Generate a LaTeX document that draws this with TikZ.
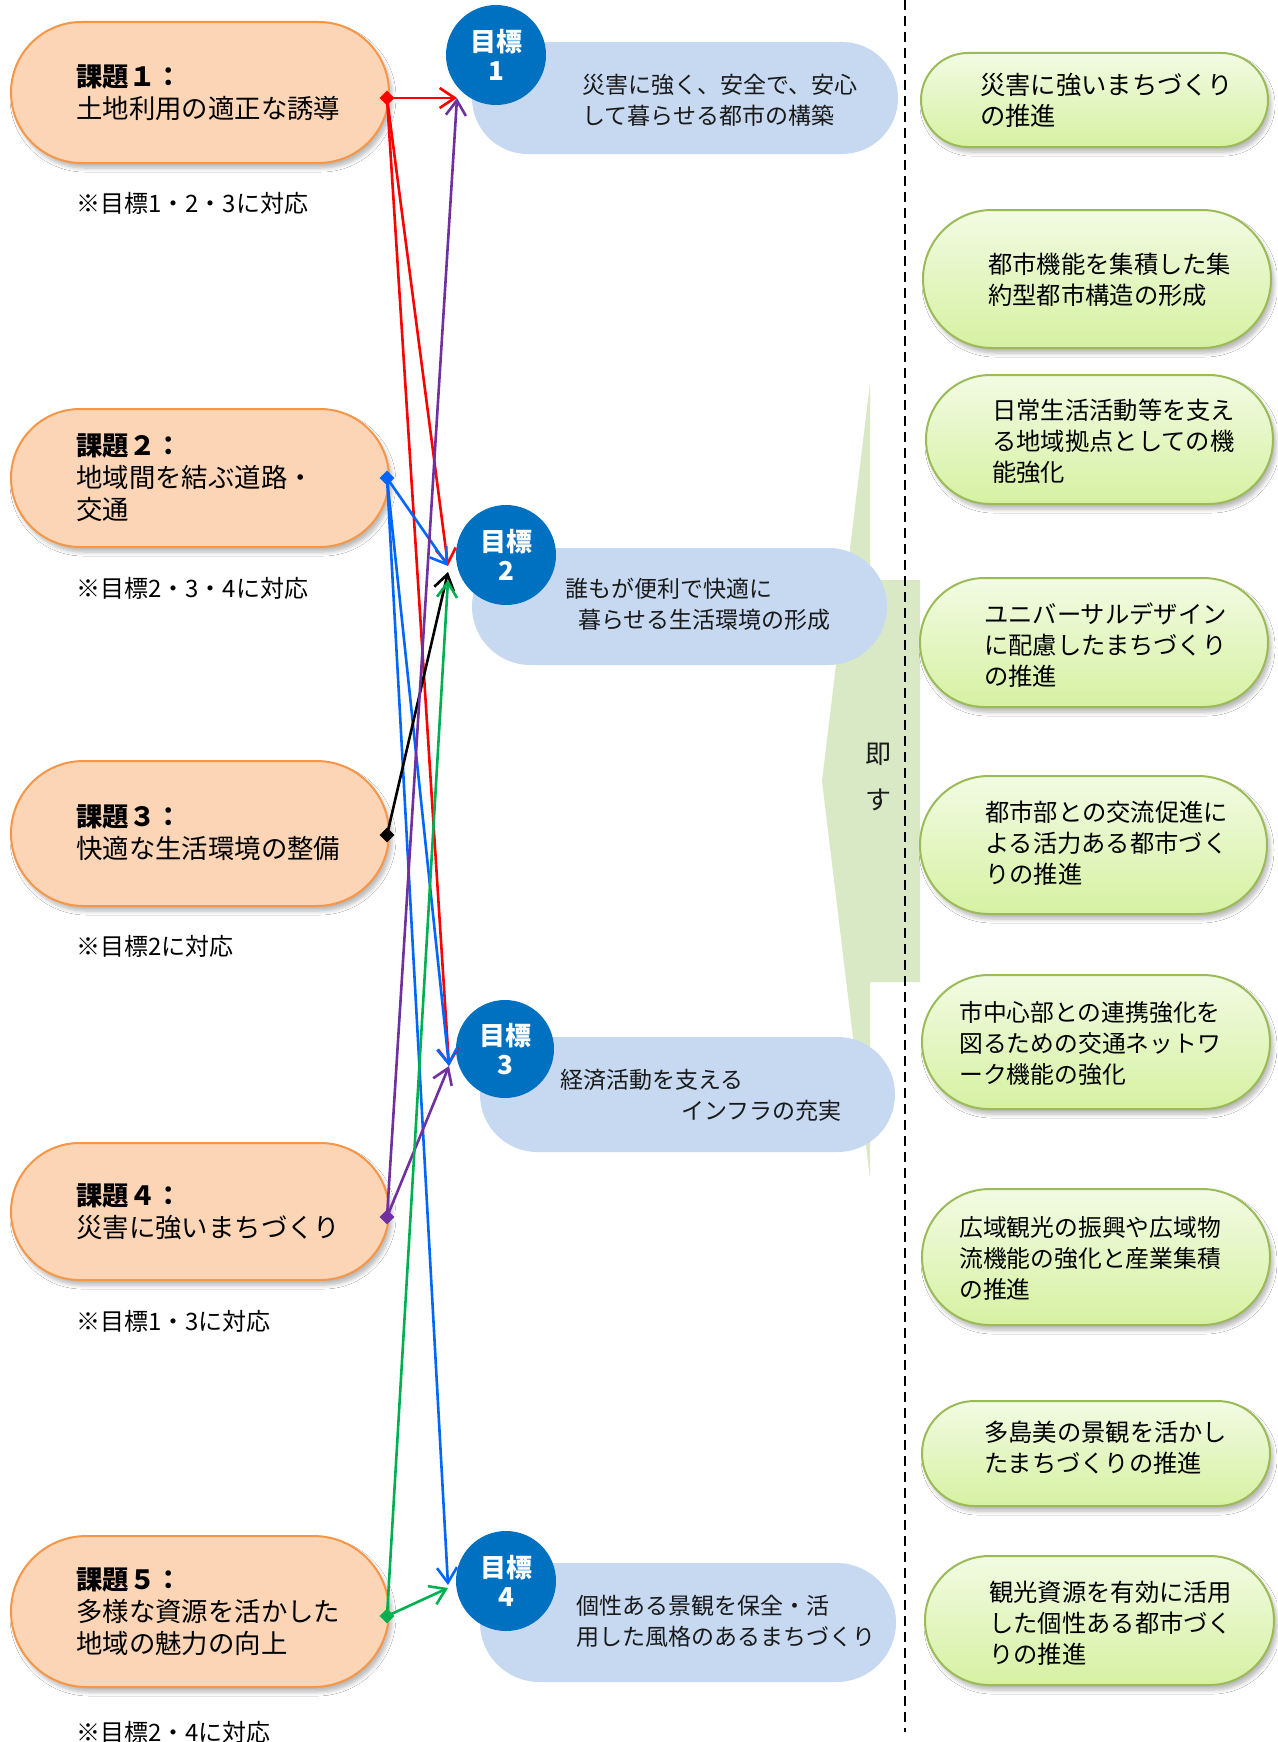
\documentclass[tikz,border=0pt]{standalone}
\usepackage{fontspec}
\setmainfont{Noto Sans CJK JP}
\usetikzlibrary{arrows.meta,shapes.misc,shapes.geometric,shadows.blur}
\definecolor{orfill}{HTML}{FBD5B5}
\definecolor{orborder}{HTML}{F79646}
\definecolor{bfill}{HTML}{C6D9F1}
\definecolor{goalblue}{HTML}{0070C0}
\definecolor{gtop}{HTML}{F2FBE3}
\definecolor{gbot}{HTML}{D6F1A2}
\definecolor{gborder}{HTML}{9BBB59}
\definecolor{arrowgreen}{HTML}{D9E9C6}
\definecolor{cred}{HTML}{FF0000}
\definecolor{cblue}{HTML}{0066FF}
\definecolor{cpurple}{HTML}{7030A0}
\definecolor{cgreen}{HTML}{00B050}
\definecolor{txtgray}{HTML}{1A1A1A}
\tikzset{
  pshadow/.style={blur shadow={shadow xshift=3pt,shadow yshift=-5pt,shadow blur steps=6,shadow opacity=28,shadow blur radius=4pt}},
  kpill/.style={rounded rectangle, draw=orborder, line width=2pt, fill=orfill, inner sep=0pt, pshadow},
  bpill/.style={rounded rectangle, fill=bfill, inner sep=0pt},
  gpill/.style={rounded rectangle, draw=gborder, line width=2pt, top color=gtop, bottom color=gbot, inner sep=0pt, pshadow},
  goal/.style={circle, fill=goalblue, inner sep=0pt, minimum size=100pt},
  goaltext/.style={align=center, text=white, inner sep=0pt, font=\fontsize{26}{29}\selectfont\bfseries},
  ktext/.style={anchor=west, align=left, inner sep=0pt, font=\fontsize{26.4}{32}\selectfont},
  notetext/.style={anchor=west, inner sep=0pt, font=\fontsize{24}{30}\selectfont},
  btext/.style={anchor=west, align=left, inner sep=0pt, text=txtgray, font=\fontsize{23}{31}\selectfont},
  gtext/.style={anchor=west, align=left, inner sep=0pt, font=\fontsize{24.3}{31}\selectfont},
  dmark/.style={diamond, aspect=1, inner sep=0pt, minimum size=15pt},
  conn/.style={line width=2.6pt, -{Straight Barb[length=15pt,width=20pt]}},
}
\begin{document}
\begin{tikzpicture}[x=1pt,y=-1pt]
\path[use as bounding box, fill=white] (0,0) rectangle (1277,1742);

% big "soku-su" arrow
\fill[arrowgreen] (870,383) -- (822,781) -- (870,1178) -- (870,982) -- (920,982) -- (920,580) -- (870,580) -- cycle;
\node[inner sep=0pt, text=txtgray, font=\fontsize{26}{30}\selectfont] (soku1) at (878,754) {即};
\node[inner sep=0pt, text=txtgray, font=\fontsize{26}{30}\selectfont] (soku2) at (878,800) {す};

% dashed divider
\coordinate (dtop) at (905,0);
\coordinate (dbot) at (905,1732);
\draw[line width=2pt, dash pattern=on 10pt off 6pt] (dtop) -- (dbot);

% blue goal pills
\node[bpill, minimum width=426pt, minimum height=112pt] (b1) at (685,98) {};
\node[bpill, minimum width=415pt, minimum height=117pt] (b2) at (679.5,606.5) {};
\node[bpill, minimum width=415pt, minimum height=115pt] (b3) at (687.5,1094.5) {};
\node[bpill, minimum width=416pt, minimum height=119pt] (b4) at (688,1622.5) {};

\node[btext] (b1t) at (582,100) {災害に強く、安全で、安心\\して暮らせる都市の構築};
\node[btext] (b2t) at (565,604) {誰もが便利で快適に\\\hspace*{13pt}暮らせる生活環境の形成};
\node[btext] (b3t1) at (560,1080) {経済活動を支える};
\node[btext, anchor=east] (b3t2) at (842,1111) {インフラの充実};
\node[btext] (b4t) at (576,1621) {個性ある景観を保全・活\\用した風格のあるまちづくり};

% goal circles
\node[goal] (c1) at (496,55) {};
\node[goal] (c2) at (506,555) {};
\node[goal, minimum size=98pt] (c3) at (505,1049) {};
\node[goal] (c4) at (506,1581) {};
\node[goaltext] (c1t) at (c1) {目標\\1};
\node[goaltext] (c2t) at (c2) {目標\\2};
\node[goaltext] (c3t) at (c3) {目標\\3};
\node[goaltext] (c4t) at (c4) {目標\\4};

% orange issue pills
\node[kpill, minimum width=378pt, minimum height=141pt] (k1) at (200,92.5) {};
\node[kpill, minimum width=378pt, minimum height=138pt] (k2) at (200,478) {};
\node[kpill, minimum width=378pt, minimum height=145pt] (k3) at (200,833.5) {};
\node[kpill, minimum width=378pt, minimum height=137pt] (k4) at (200,1211.5) {};
\node[kpill, minimum width=378pt, minimum height=151pt] (k5) at (200,1611.5) {};

\node[ktext] (k1t) at (76,92.5) {\textbf{課題１：}\\土地利用の適正な誘導};
\node[ktext] (k2t) at (76,478) {\textbf{課題２：}\\地域間を結ぶ道路・\\交通};
\node[ktext] (k3t) at (76,833) {\textbf{課題３：}\\快適な生活環境の整備};
\node[ktext] (k4t) at (76,1212) {\textbf{課題４：}\\災害に強いまちづくり};
\node[ktext] (k5t) at (76,1612) {\textbf{課題５：}\\多様な資源を活かした\\地域の魅力の向上};

\node[notetext] (n1) at (76,203) {※目標1・2・3に対応};
\node[notetext] (n2) at (76,588) {※目標2・3・4に対応};
\node[notetext] (n3) at (76,946) {※目標2に対応};
\node[notetext] (n4) at (76,1321) {※目標1・3に対応};
\node[notetext] (n5) at (76,1732) {※目標2・4に対応};

% green policy pills
\node[gpill, minimum width=347pt, minimum height=94pt] (g1) at (1094.5,100) {};
\node[gpill, minimum width=348pt, minimum height=138pt] (g2) at (1097,279) {};
\node[gpill, minimum width=347pt, minimum height=129pt] (g3) at (1099.5,439.5) {};
\node[gpill, minimum width=348pt, minimum height=129pt] (g4) at (1094,642.5) {};
\node[gpill, minimum width=347pt, minimum height=138pt] (g5) at (1093.5,845) {};
\node[gpill, minimum width=348pt, minimum height=134pt] (g6) at (1096,1042) {};
\node[gpill, minimum width=348pt, minimum height=136pt] (g7) at (1096,1257) {};
\node[gpill, minimum width=348pt, minimum height=105pt] (g8) at (1096,1453.5) {};
\node[gpill, minimum width=349pt, minimum height=129pt] (g9) at (1099.5,1620.5) {};

\node[gtext, font=\fontsize{25.3}{31}\selectfont] (g1t) at (980,100) {災害に強いまちづくり\\の推進};
\node[gtext] (g2t) at (988,280) {都市機能を集積した集\\約型都市構造の形成};
\node[gtext] (g3t) at (992,441) {日常生活活動等を支え\\る地域拠点としての機\\能強化};
\node[gtext] (g4t) at (984,645) {ユニバーサルデザイン\\に配慮したまちづくり\\の推進};
\node[gtext] (g5t) at (985,843) {都市部との交流促進に\\よる活力ある都市づく\\りの推進};
\node[gtext, font=\fontsize{23.8}{31}\selectfont] (g6t) at (959,1043) {市中心部との連携強化を\\図るための交通ネットワ\\ーク機能の強化};
\node[gtext, font=\fontsize{23.8}{31}\selectfont] (g7t) at (959,1258) {広域観光の振興や広域物\\流機能の強化と産業集積\\の推進};
\node[gtext] (g8t) at (984,1448) {多島美の景観を活かし\\たまちづくりの推進};
\node[gtext] (g9t) at (989,1623) {観光資源を有効に活用\\した個性ある都市づく\\りの推進};

% connector anchors
\coordinate (t1) at (457,98);
\coordinate (t2) at (448,566);
\coordinate (t2b) at (448,572);
\coordinate (t2c) at (448,580);
\coordinate (t3) at (449,1066);
\coordinate (t4) at (448,1585);
\coordinate (t4b) at (448,1588);

\node[dmark] (d1) at (387,98) {};
\node[dmark] (d2) at (387,478) {};
\node[dmark] (d3) at (387,835) {};
\node[dmark] (d4) at (387,1217) {};
\node[dmark] (d5) at (387,1616) {};

% connectors
\draw[conn, cred] (d1.center) -- (t1);
\draw[conn, cred] (d1.center) -- (t2);
\draw[conn, cred] (d1.center) -- (t3);
\draw[conn, cblue] (d2.center) -- (t2);
\draw[conn, cblue] (d2.center) -- (t3);
\draw[conn, cblue] (d2.center) -- (t4);
\draw[conn, black] (d3.center) -- (t2b);
\draw[conn, cpurple] (d4.center) -- (t1);
\draw[conn, cpurple] (d4.center) -- (t3);
\draw[conn, cgreen] (d5.center) -- (t2c);
\draw[conn, cgreen] (d5.center) -- (t4b);

\node[dmark, fill=cred] (d1m) at (d1) {};
\node[dmark, fill=cblue] (d2m) at (d2) {};
\node[dmark, fill=black] (d3m) at (d3) {};
\node[dmark, fill=cpurple] (d4m) at (d4) {};
\node[dmark, fill=cgreen] (d5m) at (d5) {};
\end{tikzpicture}
\end{document}
